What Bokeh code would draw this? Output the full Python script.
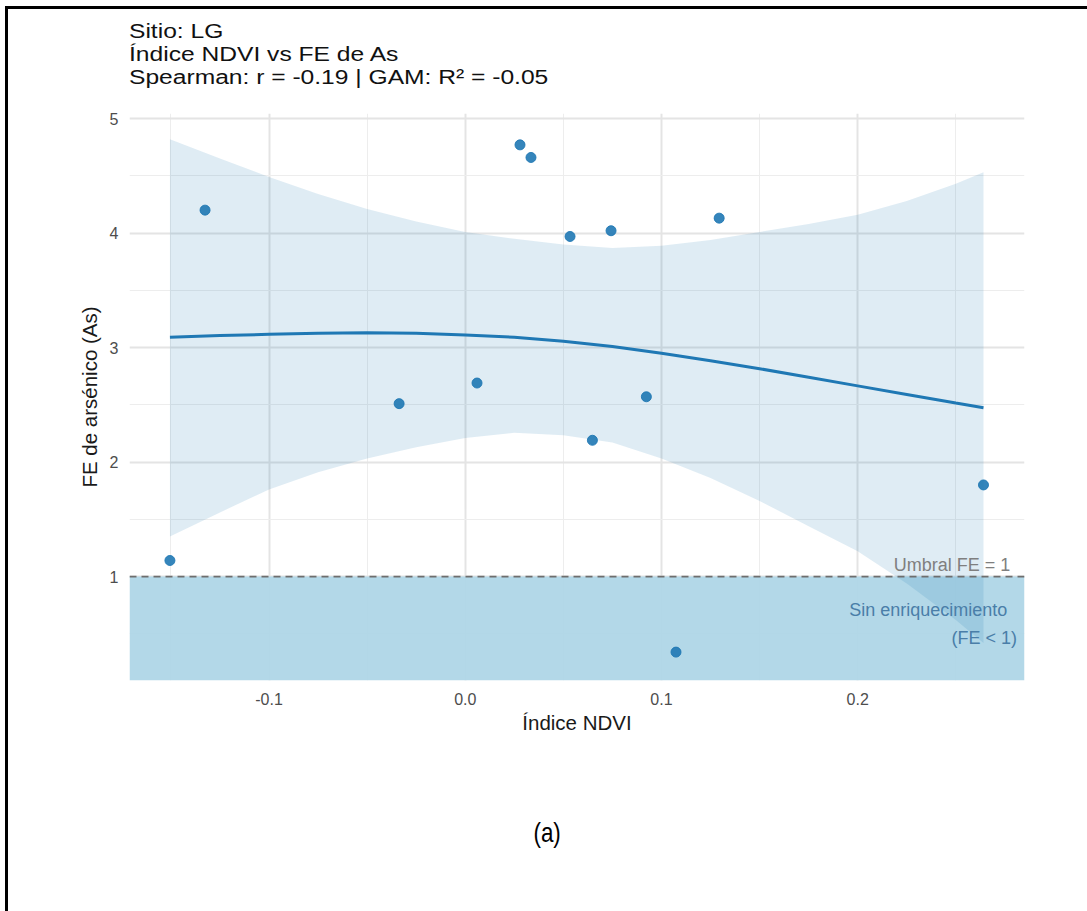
from bokeh.plotting import figure
from bokeh.models import Range1d, FixedTicker, Span, Label, BoxAnnotation, Div
from bokeh.layouts import column
from bokeh.embed import file_html
from bokeh.resources import INLINE

# NDVI index and arsenic enrichment factor (FE) at site LG
ndvi = [-0.1505, -0.1326, -0.0337, 0.0060, 0.0279, 0.0335, 0.0534,
        0.0648, 0.0743, 0.0923, 0.1074, 0.1294, 0.2641]
fe_as = [1.14, 4.20, 2.51, 2.69, 4.77, 4.66, 3.97,
         2.19, 4.02, 2.57, 0.34, 4.13, 1.80]

# GAM smooth and its confidence band
gam_x = [-0.1505, -0.125, -0.10, -0.075, -0.05, -0.025, 0.0, 0.025, 0.05,
         0.075, 0.10, 0.125, 0.15, 0.175, 0.20, 0.225, 0.25, 0.2641]
gam_fit = [3.09, 3.105, 3.115, 3.125, 3.13, 3.125, 3.11, 3.09, 3.055,
           3.01, 2.95, 2.885, 2.815, 2.74, 2.665, 2.59, 2.515, 2.475]
gam_hi = [4.82, 4.65, 4.49, 4.34, 4.21, 4.10, 4.01, 3.95, 3.90,
          3.87, 3.89, 3.94, 4.01, 4.08, 4.16, 4.28, 4.43, 4.53]
gam_lo = [1.35, 1.56, 1.76, 1.91, 2.03, 2.13, 2.21, 2.255, 2.235,
          2.17, 2.03, 1.86, 1.66, 1.44, 1.22, 0.94, 0.62, 0.42]

# enrichment threshold
fe_threshold = 1.0

x_ticks = [-0.1, 0.0, 0.1, 0.2]
x_tick_labels = ["-0.1", "0.0", "0.1", "0.2"]
x_minor = [-0.15, -0.05, 0.05, 0.15, 0.25]
y_ticks = [1, 2, 3, 4, 5]
y_tick_labels = ["1", "2", "3", "4", "5"]
y_minor = [0.5, 1.5, 2.5, 3.5, 4.5]

title_lines = ["Sitio: LG", "Índice NDVI vs FE de As",
               "Spearman: r = -0.19 | GAM: R² = -0.05"]

FONT = "Liberation Sans"
BLUE = "#1f78b4"

# three-line heading above the panel (slightly widened lettering)
heading = Div(
    text='<div style="padding:11px 0 0 121px;font-family:\'Liberation Sans\',sans-serif;'
         'font-size:20px;line-height:23px;color:#111111;white-space:nowrap;'
         'transform:scaleX(1.23);transform-origin:121px 0;">'
         + "<br>".join(title_lines) + "</div>",
    width=1079, height=80, margin=0)

p = figure(width=1079, height=671, output_backend="svg", toolbar_location=None,
           x_range=Range1d(-0.1711, 0.2850), y_range=Range1d(0.092, 5.044),
           min_border_left=121, min_border_right=63,
           min_border_top=24, min_border_bottom=80)
p.outline_line_color = None
p.background_fill_color = "white"
p.border_fill_color = "white"

# axes
p.xaxis.ticker = FixedTicker(ticks=x_ticks, minor_ticks=x_minor)
p.yaxis.ticker = FixedTicker(ticks=y_ticks, minor_ticks=y_minor)
p.xaxis.major_label_overrides = dict(zip(x_ticks, x_tick_labels))
p.yaxis.major_label_overrides = dict(zip(y_ticks, y_tick_labels))
p.xaxis.axis_label = "Índice NDVI"
p.yaxis.axis_label = "FE de arsénico (As)"
for ax in (p.xaxis, p.yaxis):
    ax.axis_line_color = None
    ax.major_tick_line_color = None
    ax.minor_tick_line_color = None
    ax.major_label_text_font = FONT
    ax.major_label_text_font_size = "16px"
    ax.major_label_text_color = "#4d4d4d"
    ax.axis_label_text_font = FONT
    ax.axis_label_text_font_size = "20.5px"
    ax.axis_label_text_font_style = "normal"
    ax.axis_label_text_color = "#1a1a1a"
p.xaxis.major_label_standoff = 6
p.yaxis.major_label_standoff = 5
p.xaxis.axis_label_standoff = 3
p.yaxis.axis_label_standoff = 6

for g in (p.xgrid, p.ygrid):
    g.grid_line_color = "#e4e4e4"
    g.grid_line_width = 2
    g.minor_grid_line_color = "#ededed"
    g.minor_grid_line_width = 1

# region below the threshold
p.add_layout(BoxAnnotation(top=fe_threshold, level="underlay",
                           fill_color="#afd6e7", fill_alpha=0.95, line_color=None))

# observations
p.scatter(ndvi, fe_as, size=10, fill_color=BLUE, line_color=BLUE, alpha=0.9)

# GAM band and curve
p.varea(x=gam_x, y1=gam_lo, y2=gam_hi, fill_color=BLUE, fill_alpha=0.14)
p.line(gam_x, gam_fit, line_color=BLUE, line_width=3)

p.add_layout(Span(location=fe_threshold, dimension="width", line_color="#6e6e6e",
                  line_width=1.8, line_dash="7 5"))

p.add_layout(Label(x=0.2777, y=1.105, text="Umbral FE = 1", text_align="right",
                   text_baseline="alphabetic", text_font=FONT,
                   text_font_size="18px", text_color="#7f7f7f"))
p.add_layout(Label(x=0.2762, y=0.712, text="Sin enriquecimiento", text_align="right",
                   text_baseline="alphabetic", text_font=FONT,
                   text_font_size="18px", text_color="#4a7ea8"))
p.add_layout(Label(x=0.2812, y=0.467, text="(FE < 1)", text_align="right",
                   text_baseline="alphabetic", text_font=FONT,
                   text_font_size="18px", text_color="#4a7ea8"))

caption = Div(
    text='<div style="width:1079px;height:151px;line-height:146px;text-align:center;'
         'font-family:\'Liberation Sans\';font-size:28px;color:#000;">'
         '<span style="display:inline-block;transform:scaleX(0.8);">(a)</span></div>',
    width=1079, height=151, margin=0)

layout = column(heading, p, caption, margin=(6, 0, 0, 5),
                styles={"border-top": "3px solid #000", "border-left": "3px solid #000"})

open("out.html", "w").write(file_html(layout, INLINE))
